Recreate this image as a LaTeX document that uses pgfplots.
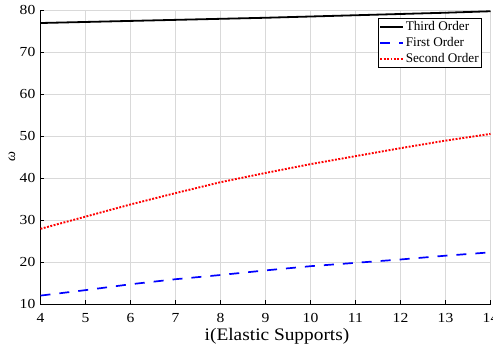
\documentclass[border=0pt]{standalone}
\usepackage{fontspec}
\setmainfont{Liberation Serif}
\newfontfamily\widefont{Liberation Serif}[FakeStretch=1.13]
\newfontfamily\widefontb{Liberation Serif}[FakeStretch=1.10]
\usepackage{pgfplots}
\pgfplotsset{compat=1.18}
\begin{document}
\begin{tikzpicture}
\begin{axis}[
  at={(0,0)}, anchor=south west,
  scale only axis, width=450pt, height=294pt,
  xmin=4, xmax=14, ymin=10, ymax=80,
  xtick={4,5,...,14}, ytick={10,20,...,80},
  axis x line*=bottom, axis y line*=left,
  axis line style={-, line width=0.9pt, black},
  tick align=inside, major tick length=4pt,
  tick style={black, line width=0.8pt},
  grid=major, major grid style={gray!30, line width=0.8pt},
  /pgf/number format/assume math mode=true,
  ticklabel style={font=\widefont\fontsize{13.8}{14}\selectfont, inner sep=0pt},
  xticklabel shift=9pt, yticklabel shift=5pt,
  xlabel={i(Elastic Supports)},
  xlabel style={font=\widefontb\fontsize{17.6}{18}\selectfont, at={(rel axis cs:0.5256,0)}, anchor=base, yshift=-36.7pt, inner sep=0pt},
  ylabel={\itshape ω},
  ylabel style={at={(rel axis cs:0,0.5)}, anchor=center, yshift=28.5pt, inner sep=0pt, font=\fontsize{14}{15}\selectfont},
  legend style={at={(rel axis cs:1,1)}, xshift=-8.5pt, yshift=-8pt, anchor=north east,
    draw=black, line width=0.6pt, fill=white, inner sep=1.5pt,
    font=\fontsize{13.2}{14}\selectfont, row sep=2.5pt,
    nodes={inner sep=1.5pt}},
  legend cell align=left,
  legend image code/.code={\draw[#1] (0pt,0pt) -- (23pt,0pt);},
]
\addplot[black, line width=1.8pt] coordinates {
(4,76.9) (5,77.15) (6,77.4) (7,77.65) (8,77.9) (9,78.15) (10,78.45) (11,78.75) (12,79.05) (13,79.35) (14,79.7)};
\addlegendentry{Third Order}
\addplot[blue, line width=1.7pt, dash pattern=on 10pt off 9pt] coordinates {
(4,12.0) (5,13.3) (6,14.7) (7,15.9) (8,16.9) (9,18.0) (10,19.0) (11,19.8) (12,20.6) (13,21.5) (14,22.3)};
\addlegendentry{First Order}
\addplot[red, line width=1.9pt, dash pattern=on 1.9pt off 1.5pt] coordinates {
(4,27.9) (5,30.8) (6,33.7) (7,36.4) (8,39.0) (9,41.2) (10,43.3) (11,45.2) (12,47.1) (13,48.9) (14,50.5)};
\addlegendentry{Second Order}
\end{axis}
\pgfresetboundingbox
\useasboundingbox (-40.5pt,-43pt) rectangle (452.5pt,304pt);
\end{tikzpicture}
\end{document}
